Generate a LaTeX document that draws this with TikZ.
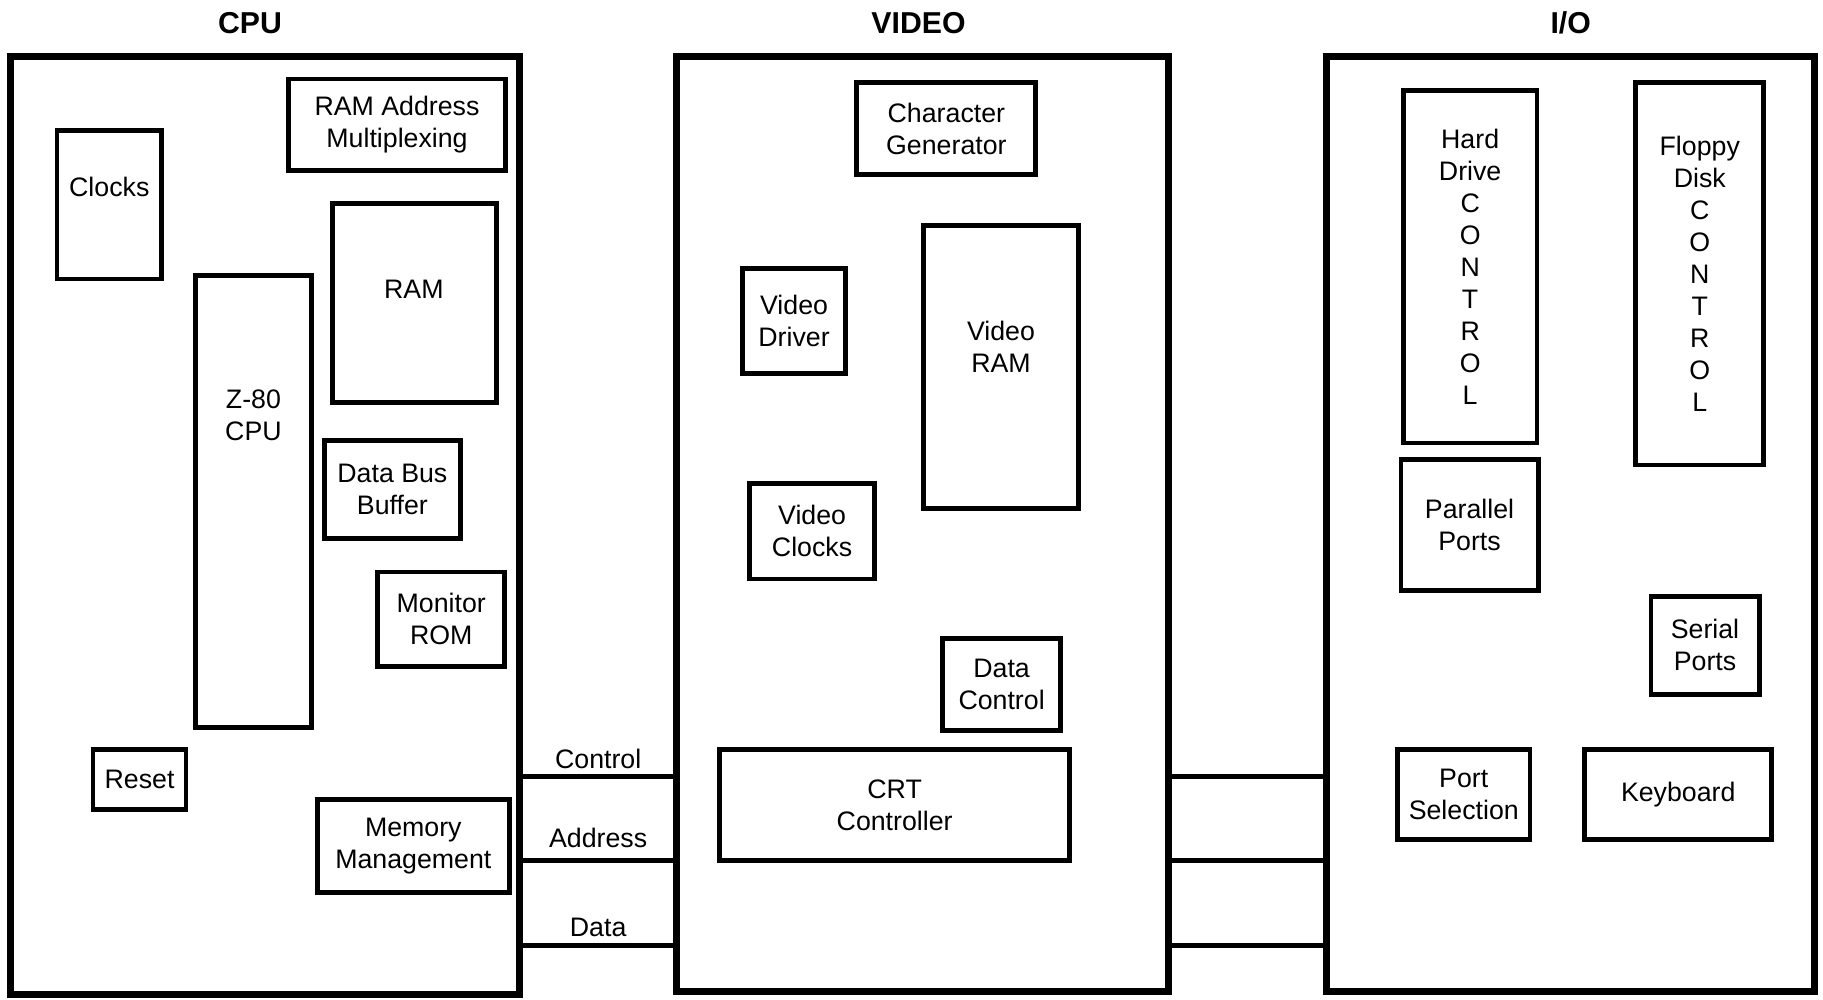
\documentclass[tikz,border=0pt]{standalone}
\usepackage{fontspec}
\setmainfont{Liberation Sans}
\usetikzlibrary{fit}

\tikzset{
  panel/.style={draw, line width=3pt, inner sep=0pt},
  blk/.style={draw, line width=2.1pt, inner sep=0pt},
  txt/.style={align=center, inner sep=0pt, font=\fontsize{11.5}{13.75}\selectfont},
  ttl/.style={inner sep=0pt, font=\fontsize{13}{15}\selectfont\bfseries},
  bus/.style={line width=2pt},
}

\begin{document}
\begin{tikzpicture}[x=0.5pt,y=-0.5pt]
\useasboundingbox (0,0) rectangle (1568,860);

% panels
\node[panel, fit={(9,49) (447,855)}] (cpu) {};
\node[panel, fit={(582,49) (1005,853)}] (video) {};
\node[panel, fit={(1141,49) (1561,853)}] (io) {};
\node[ttl] (cputtl) at (215,20) {CPU};
\node[ttl] (videottl) at (790,20) {VIDEO};
\node[ttl] (iottl) at (1351,20) {I/O};

% CPU board
\node[blk, fit={(248,68) (435,147)}, label={[txt]center:{RAM Address\\Multiplexing}}] (ramaddr) {};
\node[blk, fit={(49,112) (139,240)}] (clocks) {};
\node[txt] (clockstxt) at (94,161) {Clocks};
\node[blk, fit={(286,175) (427,346)}] (ram) {};
\node[txt] (ramtxt) at (356,249) {RAM};
\node[blk, fit={(168,237) (268,626)}] (z80) {};
\node[txt] (z80txt) at (218,357) {Z-80\\CPU};
\node[blk, fit={(279,379) (396,463)}, label={[txt]center:{Data Bus\\Buffer}}] (dbb) {};
\node[blk, fit={(325,492) (434,573)}, label={[txt]center:{Monitor\\ROM}}] (monrom) {};
\node[blk, fit={(80,645) (160,696)}, label={[txt]center:Reset}] (reset) {};
\node[blk, fit={(273,688) (438,768)}, label={[txt]center:{Memory\\Management}}] (mmu) {};

% VIDEO board
\node[blk, fit={(737,71) (891,150)}, label={[txt]center:{Character\\Generator}}] (chargen) {};
\node[blk, fit={(639,231) (727,321)}, label={[txt]center:{Video\\Driver}}] (vdrv) {};
\node[blk, fit={(794,194) (928,437)}] (vram) {};
\node[txt] (vramtxt) at (861,298) {Video\\RAM};
\node[blk, fit={(645,416) (752,498)}, label={[txt]center:{Video\\Clocks}}] (vclk) {};
\node[blk, fit={(811,549) (912,628)}, label={[txt]center:{Data\\Control}}] (dctl) {};
\node[blk, fit={(619,645) (920,740)}, label={[txt]center:{CRT\\Controller}}] (crt) {};

% I/O board
\node[blk, fit={(1207,78) (1322,381)}, label={[txt]center:{Hard\\Drive\\C\\O\\N\\T\\R\\O\\L}}] (hdc) {};
\node[blk, fit={(1407,71) (1517,400)}, label={[txt]center:{Floppy\\Disk\\C\\O\\N\\T\\R\\O\\L}}] (fdc) {};
\node[blk, fit={(1205,395) (1323,508)}, label={[txt]center:{Parallel\\Ports}}] (par) {};
\node[blk, fit={(1420,513) (1513,597)}, label={[txt]center:{Serial\\Ports}}] (ser) {};
\node[blk, fit={(1202,645) (1316,722)}, label={[txt]center:{Port\\Selection}}] (psel) {};
\node[blk, fit={(1363,645) (1524,722)}, label={[txt]center:Keyboard}] (kbd) {};

% buses
\coordinate (yctl) at (0,668);
\coordinate (yadr) at (0,740);
\coordinate (ydat) at (0,813);
\draw[bus] (cpu.east |- yctl) -- node[txt, midway, above=2.5pt] (ctllbl) {Control} (video.west |- yctl);
\draw[bus] (cpu.east |- yadr) -- node[txt, midway, above=4.5pt] (adrlbl) {Address} (video.west |- yadr);
\draw[bus] (cpu.east |- ydat) -- node[txt, midway, above=2.5pt] (datlbl) {Data} (video.west |- ydat);
\draw[bus] (video.east |- yctl) -- (io.west |- yctl);
\draw[bus] (video.east |- yadr) -- (io.west |- yadr);
\draw[bus] (video.east |- ydat) -- (io.west |- ydat);
\end{tikzpicture}
\end{document}
